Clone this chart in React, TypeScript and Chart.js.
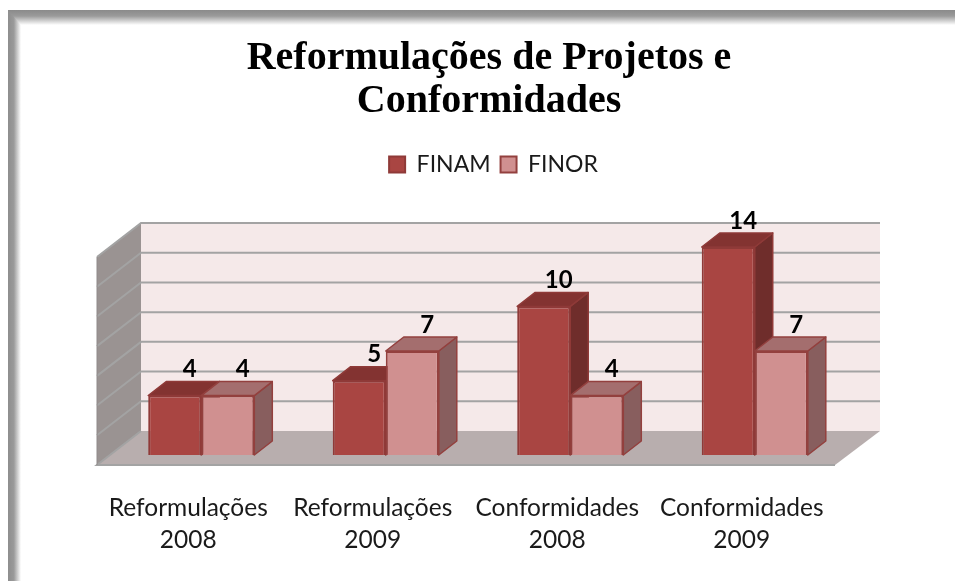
import React, { useEffect, useRef } from "react";
import { Chart, registerables } from "chart.js";

Chart.register(...registerables);

const categories = [
  ["Reformulações", "2008"],
  ["Reformulações", "2009"],
  ["Conformidades", "2008"],
  ["Conformidades", "2009"],
];
const finam = [4, 5, 10, 14];
const finor = [4, 7, 4, 7];
const wallTicks = [0, 2, 4, 6, 8, 10, 12, 14];
const titleLines = ["Reformulações de Projetos e", "Conformidades"];

const BAR_DX = 18;
const BAR_DY = 14;
const faces = [
  { top: "#833331", side: "#6f2d2b", edge: "#8f3a38" },
  { top: "#a46e6e", side: "#885e5e", edge: "#93403e" },
];

function poly(ctx: CanvasRenderingContext2D, pts: number[][], fill: string, stroke?: string, lw = 1) {
  ctx.beginPath();
  pts.forEach((p, i) => (i ? ctx.lineTo(p[0], p[1]) : ctx.moveTo(p[0], p[1])));
  ctx.closePath();
  ctx.fillStyle = fill;
  ctx.fill();
  if (stroke) {
    ctx.strokeStyle = stroke;
    ctx.lineWidth = lw;
    ctx.lineJoin = "round";
    ctx.stroke();
  }
}

const framePlugin = {
  id: "frame",
  afterLayout(chart: any) {
    // the title and legend sit to the right of the canvas centre
    const t = chart.titleBlock;
    if (t) { t.left += 22; }
    const l = chart.legend;
    if (l) { l.left += 31; }
  },
  beforeDraw(chart: any) {
    const ctx = chart.ctx as CanvasRenderingContext2D;
    const { width, height } = chart;
    ctx.save();
    ctx.fillStyle = "#fff";
    ctx.fillRect(0, 0, width, height);
    const gl = ctx.createLinearGradient(8, 0, 21, 0);
    gl.addColorStop(0, "#8e8e8e");
    gl.addColorStop(0.45, "#9a9a9a");
    gl.addColorStop(1, "#ffffff");
    ctx.fillStyle = gl;
    ctx.fillRect(8, 10, 13, height - 10);
    const gt = ctx.createLinearGradient(0, 10, 0, 25);
    gt.addColorStop(0, "#8a8a8a");
    gt.addColorStop(0.4, "#9a9a9a");
    gt.addColorStop(1, "#ffffff");
    ctx.fillStyle = gt;
    ctx.beginPath();
    ctx.moveTo(8, 10);
    ctx.lineTo(width, 10);
    ctx.lineTo(width, 25);
    ctx.lineTo(21, 25);
    ctx.closePath();
    ctx.fill();
    ctx.restore();
  },
};

const wallPlugin = {
  id: "walls",
  beforeDatasetsDraw(chart: any) {
    const ctx = chart.ctx as CanvasRenderingContext2D;
    const { left, right } = chart.chartArea;
    const y = chart.scales.y;
    const backDx = 32;
    const backDy = 24;
    const frontDx = -12;
    const frontDy = 10;
    const y0 = y.getPixelForValue(0);
    const yMax = y.getPixelForValue(14);
    ctx.save();
    poly(ctx, [[left + backDx, yMax - backDy], [right + backDx + 1, yMax - backDy], [right + backDx + 1, y0 - backDy], [left + backDx, y0 - backDy]], "#f5e9e9");
    poly(ctx, [[left + frontDx, yMax + frontDy], [left + backDx, yMax - backDy], [left + backDx, y0 - backDy], [left + frontDx, y0 + frontDy]], "#9a9392");
    poly(ctx, [[left + frontDx, y0 + frontDy], [left + backDx, y0 - backDy], [right + backDx + 1, y0 - backDy], [right + frontDx, y0 + frontDy]], "#b8aeae");
    wallTicks.forEach((t) => {
      const py = y.getPixelForValue(t);
      ctx.strokeStyle = "#a3a3a3";
      ctx.lineWidth = 2;
      ctx.beginPath();
      if (t > 0) {
        ctx.moveTo(right + backDx + 1, py - backDy);
        ctx.lineTo(left + backDx, py - backDy);
      } else {
        ctx.moveTo(left + backDx, py - backDy);
      }
      ctx.lineTo(left + frontDx, py + frontDy);
      if (t === 0) ctx.lineTo(right + frontDx, py + frontDy);
      ctx.stroke();
    });
    ctx.beginPath();
    ctx.moveTo(left + frontDx, yMax + frontDy);
    ctx.lineTo(left + frontDx, y0 + frontDy);
    ctx.strokeStyle = "#8f8a8a";
    ctx.lineWidth = 1;
    ctx.stroke();
    ctx.restore();
  },
};

const depthPlugin = {
  id: "depth",
  // FINAM is painted first and FINOR over it, because the FINOR faces overlap FINAM's side
  beforeDatasetDraw() {
    return false;
  },
  afterDatasetsDraw(chart: any) {
    const ctx = chart.ctx as CanvasRenderingContext2D;
    ctx.save();
    chart.data.datasets.forEach((_: any, i: number) => {
      const f = faces[i];
      chart.getDatasetMeta(i).data.forEach((bar: any) => {
        const hw = bar.width / 2;
        const l = bar.x - hw;
        const r = bar.x + hw;
        const t = bar.y;
        const b = bar.base;
        poly(ctx, [[r, t], [r + BAR_DX, t - BAR_DY], [r + BAR_DX, b - BAR_DY], [r, b]], f.side, f.edge, 1.5);
        poly(ctx, [[l, t], [l + BAR_DX, t - BAR_DY], [r + BAR_DX, t - BAR_DY], [r, t]], f.top, f.edge, 1.5);
        bar.draw(ctx);
      });
    });
    ctx.font = "bold 24px Lato";
    ctx.fillStyle = "#000";
    ctx.textAlign = "center";
    ctx.textBaseline = "middle";
    chart.data.datasets.forEach((ds: any, i: number) => {
      chart.getDatasetMeta(i).data.forEach((bar: any, j: number) => {
        ctx.fillText(String(ds.data[j]), bar.x + 15, bar.y - 26);
      });
    });
    ctx.restore();
  },
};

export default function App() {
  const ref = useRef<HTMLCanvasElement>(null);
  useEffect(() => {
    const chart = new Chart(ref.current as HTMLCanvasElement, {
      type: "bar",
      data: {
        labels: categories,
        datasets: [
          { label: "FINAM", data: finam, backgroundColor: "#a94542", borderColor: faces[0].edge, borderWidth: 2 },
          { label: "FINOR", data: finor, backgroundColor: "#d09090", borderColor: faces[1].edge, borderWidth: 2 },
        ],
      } as any,
      options: {
        responsive: false,
        animation: false,
        layout: { padding: { top: 37, left: 109, right: 108, bottom: 0 } },
        datasets: { bar: { categoryPercentage: 0.575, barPercentage: 1 } },
        plugins: {
          tooltip: { enabled: false },
          title: {
            display: true,
            text: titleLines,
            color: "#000",
            font: { family: "'Liberation Serif'", size: 40, weight: "bold", lineHeight: 1.075 },
            padding: { top: 0, bottom: 20 },
          },
          legend: {
            display: true,
            position: "top",
            labels: {
              boxWidth: 16,
              boxHeight: 16,
              padding: 10,
              color: "#1a1a1a",
              font: { family: "Lato", size: 23 },
            },
          },
        },
        scales: {
          x: {
            type: "category",
            position: "bottom",
            grid: { display: false },
            border: { display: false },
            afterFit: (s: any) => { s.height = 126; },
            ticks: {
              autoSkip: false,
              maxRotation: 0,
              minRotation: 0,
              labelOffset: -13,
              padding: 29,
              color: "#1a1a1a",
              font: { family: "Lato", size: 24.5, lineHeight: 1.31 },
            },
          },
          spacer: {
            type: "category",
            axis: "x",
            position: "top",
            grid: { display: false },
            border: { display: false },
            ticks: { display: false },
            afterFit: (s: any) => { s.height = 61; },
          },
          y: {
            min: 0,
            max: 14,
            display: false,
            ticks: { stepSize: 2 },
            grid: { display: false },
          },
        },
      } as any,
      plugins: [framePlugin, wallPlugin, depthPlugin],
    });
    return () => chart.destroy();
  }, []);
  return (
    <div style={{ position: "absolute", left: 0, top: 0, width: 955, height: 581, overflow: "hidden" }}>
      <canvas ref={ref} width={955} height={581} style={{ display: "block", filter: "blur(0.5px)" }} />
    </div>
  );
}
